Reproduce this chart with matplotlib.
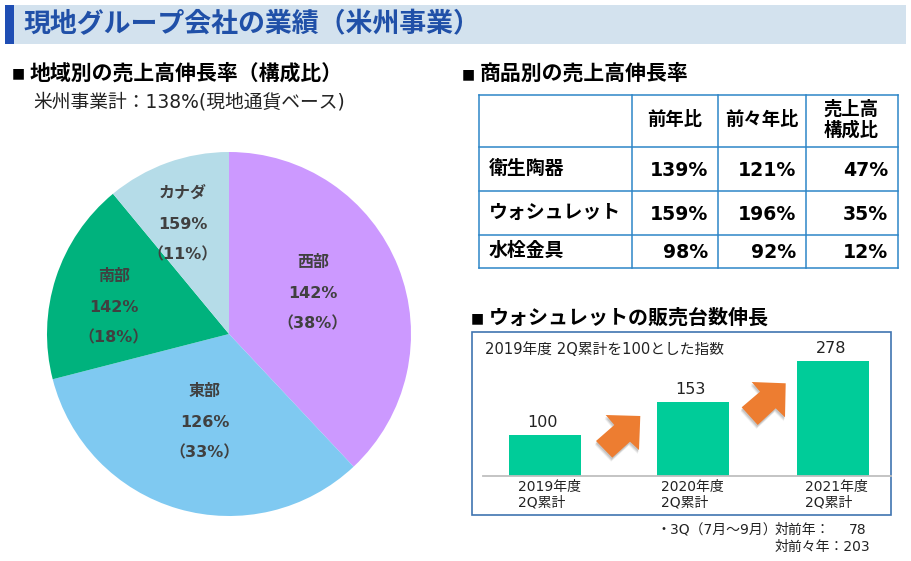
import matplotlib
matplotlib.use("Agg")
import matplotlib.pyplot as plt
from matplotlib.patches import Rectangle, Polygon

plt.rcParams['font.family'] = ['DejaVu Sans', 'Noto Sans CJK JP']

W, H = 911, 561

# pie data
regions = ["西部", "東部", "南部", "カナダ"]
region_share = [38, 33, 18, 11]
region_growth = [142, 126, 142, 159]
region_colors = ["#CC99FF", "#7FC9F1", "#00B27D", "#B5DCE8"]

# table data
table_cols = ["前年比", "前々年比", "売上高\n構成比"]
table_rows = ["衛生陶器", "ウォシュレット", "水栓金具"]
table_yoy = [139, 159, 98]
table_yo2y = [121, 196, 92]
table_share = [47, 35, 12]

# bar data: labels are what is printed, heights are what the slide draws
bar_cats = ["2019年度\n2Q累計", "2020年度\n2Q累計", "2021年度\n2Q累計"]
bar_labels = [100, 153, 278]
bar_heights = [100, 178, 278]

fig = plt.figure(figsize=(W / 100, H / 100), dpi=100, facecolor="white")

# full figure overlay in pixel coords
bg = fig.add_axes([0, 0, 1, 1])
bg.set_xlim(0, W)
bg.set_ylim(H, 0)
bg.axis("off")

def px_axes(x0, y0, x1, y1):
    return fig.add_axes([x0 / W, 1 - y1 / H, (x1 - x0) / W, (y1 - y0) / H])

# header
bg.add_patch(Rectangle((5, 5), 901, 39, fc="#D3E2EE", ec="none"))
bg.add_patch(Rectangle((5, 5), 9, 39, fc="#1F4EB4", ec="none"))
bg.text(24, 25, "現地グループ会社の業績（米州事業）", fontsize=19.4, fontweight="bold",
        color="#2050A8", va="center")

# section titles
bg.text(12, 73, "■", fontsize=10, fontweight="bold", va="center")
bg.text(30, 73, "地域別の売上高伸長率（構成比）", fontsize=15, fontweight="bold", va="center")
bg.text(33, 102, "米州事業計：138%(現地通貨ベース)", fontsize=13.5, va="center", color="#222222")
bg.text(462, 74, "■", fontsize=10, fontweight="bold", va="center")
bg.text(480, 74, "商品別の売上高伸長率", fontsize=15, fontweight="bold", va="center")
bg.text(471, 318, "■", fontsize=10, fontweight="bold", va="center")
bg.text(489, 318, "ウォシュレットの販売台数伸長", fontsize=14.4, fontweight="bold", va="center")

# pie
pie_ax = px_axes(47, 152, 411, 516)
pie_ax.pie(region_share, colors=region_colors, startangle=90, counterclock=False, radius=1)
pie_ax.set_xlim(-1, 1)
pie_ax.set_ylim(-1, 1)

# table
col_x = [479, 632, 718, 806, 898]
row_y = [95, 147, 191, 235, 268]
for x in col_x:
    bg.plot([x, x], [row_y[0], row_y[-1]], color="#2E86C8", lw=1.1, solid_capstyle="projecting")
for y in row_y:
    bg.plot([col_x[0], col_x[-1]], [y, y], color="#2E86C8", lw=1.1, solid_capstyle="projecting")
for i, c in enumerate(table_cols):
    bg.text((col_x[i + 1] + col_x[i + 2]) / 2 - (1 if i == 2 else 0), 120, c, fontsize=13.2, fontweight="bold",
            ha="center", va="center", linespacing=1.1)
for i, name in enumerate(table_rows):
    yc = (row_y[i + 1] + row_y[i + 2]) / 2 - 1
    bg.text(489, yc, name, fontsize=13.6, fontweight="bold", va="center")
    for j, vals in enumerate([table_yoy, table_yo2y, table_share]):
        bg.text(col_x[j + 2] - 10, yc + 2, f"{vals[i]}%", fontsize=13.6, fontweight="bold", ha="right", va="center")

# bar panel frame
bg.add_patch(Rectangle((472, 332), 419, 183, fc="white", ec="#3F74B0", lw=1.2))
bg.text(485, 349, "2019年度 2Q累計を100とした指数", fontsize=10.6, va="center", color="#222222")

# bars, axes spans panel width, x in pixels
bar_ax = px_axes(483, 340, 891, 476)
bar_ax.patch.set_alpha(0)
bar_ax.set_xlim(483, 891)
bar_ax.set_ylim(0, 136 / 0.415)
bar_centres = [545, 693, 833]
bar_ax.bar(bar_centres, bar_heights, width=72, color="#00CC99")
for x, h, lab in zip(bar_centres, bar_heights, bar_labels):
    bar_ax.annotate(str(lab), (x, h), xytext=(-2 if x != 833 else -1, 3.5), textcoords="offset points",
                    ha="center", va="bottom", fontsize=11.5, color="#222222")
bar_ax.set_xticks([])
bar_ax.set_yticks([])
for s in ["top", "left", "right"]:
    bar_ax.spines[s].set_visible(False)
bar_ax.spines["bottom"].set_color("#BFBFBF")
bar_ax.spines["bottom"].set_linewidth(1.3)
bar_ax.spines["bottom"].set_zorder(5)

for x, c in zip([518, 661, 805], bar_cats):
    bg.text(x, 495, c, fontsize=10, va="center", color="#222222", linespacing=1.1)

# top layer for things that sit on the pie and bars
top = fig.add_axes([0, 0, 1, 1])
top.set_xlim(0, W)
top.set_ylim(H, 0)
top.axis("off")

# pie labels
label_pos = [(313, 262), (205, 391), (114, 276), (183, 193)]
for name, share, growth, (x, y) in zip(regions, region_share, region_growth, label_pos):
    lines = [name, f"{growth}%", f"（{share}%）"]
    for i, s in enumerate(lines):
        top.text(x, y + i * 31, s, fontsize=11.5, fontweight="bold",
                 color="#404040", ha="center", va="center")

# arrows
arrow_a = [(640.3, 416), (639, 450), (630, 441.7), (612.3, 457.7), (596, 441), (614.3, 425), (605.7, 415)]
arrow_b = [(785.7, 383.3), (785, 417.3), (775.7, 408.3), (757.7, 425), (741.7, 407.3), (760, 391.7), (751.7, 382)]
for pts in [arrow_a, arrow_b]:
    for off, a in [(4, 0.06), (3, 0.08), (2, 0.1)]:
        top.add_patch(Polygon([(x - off * 0.3, y + off) for x, y in pts], fc="black", ec="none", alpha=a))
    top.add_patch(Polygon(pts, fc="#ED7D31", ec="none"))

# footnote
bg.text(656, 530, "・3Q（7月～9月）", fontsize=10, va="center", color="#222222")
bg.text(775, 530, "対前年：", fontsize=10, va="center", color="#222222")
bg.text(867, 530, "78", fontsize=10, va="center", ha="right", color="#222222")
bg.text(775, 547, "対前々年：203", fontsize=10, va="center", color="#222222")

fig.savefig("out.png", dpi=100)
